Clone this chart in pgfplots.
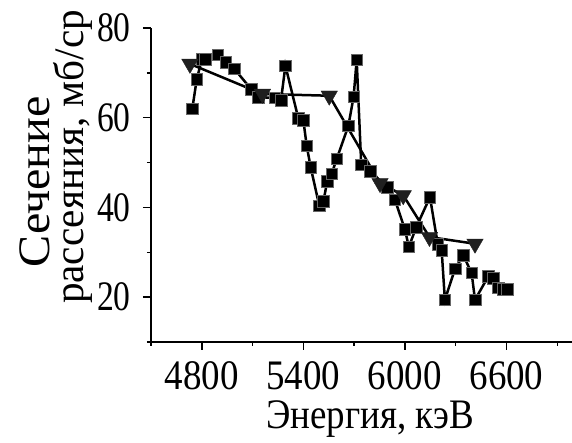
\documentclass[border=0pt]{standalone}
\usepackage{fontspec}
\setmainfont{Liberation Serif}[FakeStretch=0.88]
\newfontfamily\widefont{Liberation Serif}[FakeStretch=1.07]
\newfontfamily\labelfont{Liberation Serif}[FakeStretch=0.98]
\newfontfamily\yfont{Liberation Serif}[FakeStretch=0.8]
\usepackage{pgfplots}
\pgfplotsset{compat=1.18}

\newcommand{\bigfont}{\fontsize{42}{46}\selectfont}

\begin{document}
\begin{tikzpicture}
\begin{axis}[
  scale only axis, width=421pt, height=314pt,
  xmin=4500, xmax=6987, ymin=10, ymax=80,
  axis lines*=left,
  axis line style={line width=1.5pt},
  xtick={4800,5400,6000,6600}, minor xtick={4500,5100,5700,6300,6900},
  ytick={20,40,60,80}, minor ytick={10,30,50,70},
  tick align=outside,
  major tick length=8pt, minor tick length=4pt,
  every tick/.style={black, line width=1.5pt},
  /pgf/number format/assume math mode=true,
  /pgf/number format/1000 sep={},
  tick label style={font=\bigfont, inner sep=0pt},
  xticklabel style={anchor=north, yshift=-11pt},
  yticklabel style={anchor=east, xshift=-12pt, font={\yfont\bigfont}},
  clip=false,
]
% measured cross section, fine energy steps
\addplot[black, line width=2.5pt, mark=square*, mark size=5.8pt,
  mark options={solid, fill=black, draw=black!60, line width=0.6pt}]
  coordinates {
  (4744,62.0) (4770,68.5) (4800,73.0) (4822,73.0) (4894,74.0)
  (4941,72.4) (4992,70.9) (5091,66.4) (5134,64.6) (5232,64.4)
  (5268,63.9) (5294,71.6) (5370,59.9) (5400,59.4) (5420,53.7)
  (5443,49.0) (5494,40.4) (5518,41.3) (5541,45.8) (5567,47.5)
  (5597,50.8) (5666,58.2) (5697,64.7) (5715,72.9) (5742,49.5)
  (5794,48.0) (5897,44.5) (5941,41.7) (6000,35.1) (6023,31.2)
  (6067,35.6) (6148,42.3) (6194,31.8) (6217,30.5) (6236,19.4)
  (6296,26.3) (6345,29.3) (6394,25.4) (6414,19.4) (6492,24.6)
  (6522,24.2) (6551,22.1) (6581,21.8) (6605,21.8)
  };
% coarse-step data set
\addplot[black, line width=2.5pt, mark=triangle*, mark size=9.5pt,
  mark options={solid, rotate=180, fill=black!88, draw=black!88, line width=0.4pt}]
  coordinates {
  (4730,72.0) (5158,65.3) (5553,64.9) (5853,45.4)
  (5990,42.7) (6145,33.4) (6414,31.9)
  };
\end{axis}
\node[rotate=90, anchor=base, font={\widefont\fontsize{45}{50}\selectfont}] at (-101pt,160pt) {Сечение};
\node[rotate=90, anchor=base, font={\labelfont\bigfont}] at (-67pt,185pt) {рассеяния, мб/ср};
\node[anchor=base, font=\bigfont] at (219pt,-87pt) {Энергия, кэВ};
\pgfresetboundingbox
\path (-151pt,-101pt) rectangle (421pt,342pt);
\end{tikzpicture}
\end{document}
